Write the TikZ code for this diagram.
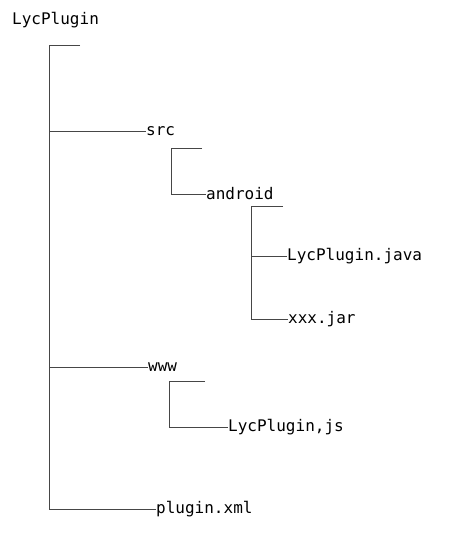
\documentclass[tikz,border=0pt]{standalone}
\usepackage{fontspec}
\setmonofont{DejaVu Sans Mono}
\usetikzlibrary{positioning}
\definecolor{treeline}{RGB}{70,70,70}
\begin{document}
\begin{tikzpicture}[x=1pt,y=-1pt,every node/.style={font=\ttfamily\fontsize{16}{16}\selectfont,anchor=west,inner sep=0pt},branch/.style={draw=treeline,line width=1pt}]
        \useasboundingbox (0,0) rectangle (476,543);
        \node (root) at (12,20) {LycPlugin};
        \node (src) at (146,131) {src};
        \node (android) at (206,194) {android};
        \node (java) at (287,256) {LycPlugin.java};
        \node (jar) at (288,319) {xxx.jar};
        \node (www) at (148,367) {www};
        \node (js) at (228,427) {LycPlugin,js};
        \node (xml) at (156,509) {plugin.xml};
        \coordinate (trunk) at (49,46);
        \coordinate (trunkstub) at (80,46);
        \coordinate (srcsub) at (171,148);
        \coordinate (srcstub) at (202,148);
        \coordinate (andsub) at (251,206);
        \coordinate (andstub) at (283,206);
        \coordinate (wwwsub) at (169,381);
        \coordinate (wwwstub) at (205,381);
        \draw[branch] (trunkstub)--(trunk) |- (xml.west);
        \draw[branch] (trunk |- src.west)--(src.west);
        \draw[branch] (trunk |- www.west)--(www.west);
        \draw[branch] (srcstub)--(srcsub) |- (android.west);
        \draw[branch] (andstub)--(andsub) |- (jar.west);
        \draw[branch] (andsub |- java.west)--(java.west);
        \draw[branch] (wwwstub)--(wwwsub) |- (js.west);
      \end{tikzpicture}
\end{document}
